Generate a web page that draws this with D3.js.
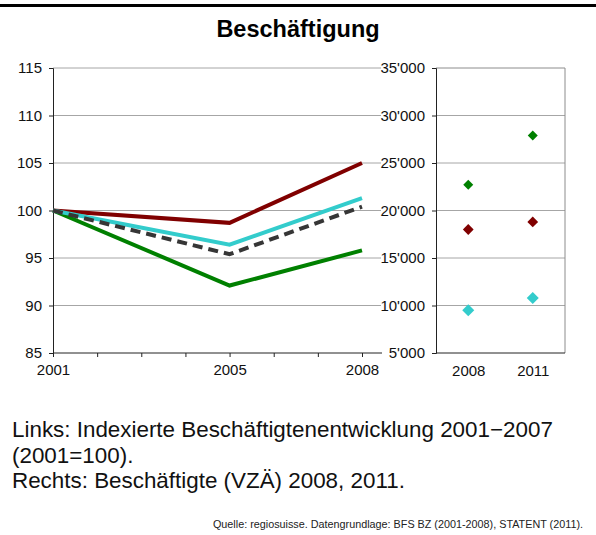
<!DOCTYPE html>
<html>
<head>
<meta charset="utf-8">
<script src="https://cdn.jsdelivr.net/npm/d3@7"></script>
<style>
body { margin: 0; background: #fff; }
text { font-family: "Liberation Sans", Arial, sans-serif; }
</style>
</head>
<body>
<div id="chart"></div>
<script>
"use strict"

// left panel: index 2001=100
var years = [2001, 2005, 2008];
var yearTicks = [2001, 2002, 2003, 2004, 2005, 2006, 2007, 2008];
var yearLabels = [2001, 2005, 2008];
var indexTicks = [85, 90, 95, 100, 105, 110, 115];
var seriesRed   = [100, 98.7, 105.0];
var seriesCyan  = [100, 96.4, 101.3];
var seriesDash  = [100, 95.4, 100.4];
var seriesGreen = [100, 92.1, 95.8];

// right panel: employees (VZÄ)
var pointYears = ["2008", "2011"];
var countTicks = [5000, 10000, 15000, 20000, 25000, 30000, 35000];
var countGreen = [22700, 27900];
var countRed   = [18000, 18800];
var countCyan  = [9500, 10800];

var W = 596, H = 535;
var plotTop = 68, plotBottom = 353;

var svg = d3.select("#chart").append("svg")
	.attr("width", W)
	.attr("height", H)
	;

svg.append("rect")
	.attr("x", 0).attr("y", 4)
	.attr("width", W).attr("height", 3)
	.attr("fill", "#000")
	;

svg.append("text")
	.attr("x", 298).attr("y", 37)
	.attr("text-anchor", "middle")
	.style("font-size", "23.5px")
	.style("font-weight", "bold")
	.text("Beschäftigung")
	;

// ---------- left panel ----------
var xL = d3.scaleLinear().domain([2001, 2008]).range([53, 362]);
var yL = d3.scaleLinear().domain([85, 115]).range([plotBottom, plotTop]);

var gL = svg.append("g");

gL.selectAll("line.grid").data(indexTicks.slice(1)).enter()
	.append("line").attr("class", "grid")
	.attr("x1", 53).attr("x2", 381)
	.attr("y1", function(d) { return yL(d); })
	.attr("y2", function(d) { return yL(d); })
	.attr("stroke", "#a6a6a6")
	.attr("stroke-width", 1)
	;

var axL = gL.append("g")
	.attr("transform", "translate(53,0)")
	.call(d3.axisLeft(yL).tickValues(indexTicks).tickSize(4).tickPadding(7));

var axB = gL.append("g")
	.attr("transform", "translate(0," + plotBottom + ")")
	.call(d3.axisBottom(xL).tickValues(yearTicks).tickSize(4).tickPadding(7)
		.tickFormat(function(d) { return yearLabels.indexOf(d) >= 0 ? d : ""; }));
axB.select(".domain").attr("d", "M53,0H382");

[axL, axB].forEach(function(ax) {
	ax.select(".domain").attr("stroke", "#222");
	ax.selectAll(".tick line").attr("stroke", "#222");
	ax.selectAll(".tick text")
		.style("font-size", "15px")
		.attr("fill", "#111");
});

var line = d3.line()
	.x(function(d, i) { return xL(years[i]); })
	.y(function(d) { return yL(d); });

var lineDefs = [
	{ values: seriesGreen, color: "#008000", dash: null },
	{ values: seriesRed,   color: "#800000", dash: null },
	{ values: seriesCyan,  color: "#33cccc", dash: null },
	{ values: seriesDash,  color: "#363636", dash: "10,6" }
];

lineDefs.forEach(function(s) {
	gL.append("path")
		.datum(s.values)
		.attr("d", line)
		.attr("fill", "none")
		.attr("stroke", s.color)
		.attr("stroke-width", 4)
		.attr("stroke-dasharray", s.dash)
		;
});

// ---------- right panel ----------
var xR = d3.scalePoint().domain(pointYears).range([436, 565]).padding(0.5);
var yR = d3.scaleLinear().domain([5000, 35000]).range([plotBottom, plotTop]);

var gR = svg.append("g");

gR.selectAll("line.grid").data(countTicks.slice(1, -1)).enter()
	.append("line").attr("class", "grid")
	.attr("x1", 436).attr("x2", 565)
	.attr("y1", function(d) { return yR(d); })
	.attr("y2", function(d) { return yR(d); })
	.attr("stroke", "#a6a6a6")
	.attr("stroke-width", 1)
	;

// plot border (top, right)
gR.append("path")
	.attr("d", "M436," + yR(35000) + "H565V" + plotBottom)
	.attr("fill", "none")
	.attr("stroke", "#8c8c8c")
	.attr("stroke-width", 1)
	;

var fmt = function(d) { return d3.format(",")(d).replace(/,/g, "'"); };

var axR = gR.append("g")
	.attr("transform", "translate(436,0)")
	.call(d3.axisLeft(yR).tickValues(countTicks).tickSize(4).tickPadding(7).tickFormat(fmt));

var axRB = gR.append("g")
	.attr("transform", "translate(0," + plotBottom + ")")
	.call(d3.axisBottom(xR).tickSize(0).tickPadding(12));
axRB.select(".domain").attr("d", "M436,0H565");

[axR, axRB].forEach(function(ax) {
	ax.select(".domain").attr("stroke", "#222");
	ax.selectAll(".tick line").attr("stroke", "#222");
	ax.selectAll(".tick text")
		.style("font-size", "15px")
		.attr("fill", "#111");
});

var pointDefs = [
	{ values: countGreen, color: "#008000", size: 50 },
	{ values: countRed,   color: "#800000", size: 58 },
	{ values: countCyan,  color: "#33cccc", size: 72 }
];

pointDefs.forEach(function(s) {
	gR.selectAll(null).data(s.values).enter()
		.append("path")
		.attr("d", d3.symbol().type(d3.symbolSquare).size(s.size))
		.attr("transform", function(d, i) {
			return "translate(" + xR(pointYears[i]) + "," + yR(d) + ") rotate(45)";
		})
		.attr("fill", s.color)
		;
});

// ---------- notes ----------
var notes = [
	"Links: Indexierte Beschäftigtenentwicklung 2001\u22122007",
	"(2001=100).",
	"Rechts: Beschäftigte (VZÄ) 2008, 2011."
];

svg.selectAll("text.note").data(notes).enter()
	.append("text").attr("class", "note")
	.attr("x", 12)
	.attr("y", function(d, i) { return 437 + i * 25.5; })
	.style("font-size", "22.4px")
	.attr("fill", "#111")
	.text(function(d) { return d; })
	;

svg.append("text")
	.attr("x", 583).attr("y", 528)
	.attr("text-anchor", "end")
	.style("font-size", "10.8px")
	.attr("fill", "#222")
	.text("Quelle: regiosuisse. Datengrundlage: BFS BZ (2001-2008), STATENT (2011).")
	;
</script>
</body>
</html>
